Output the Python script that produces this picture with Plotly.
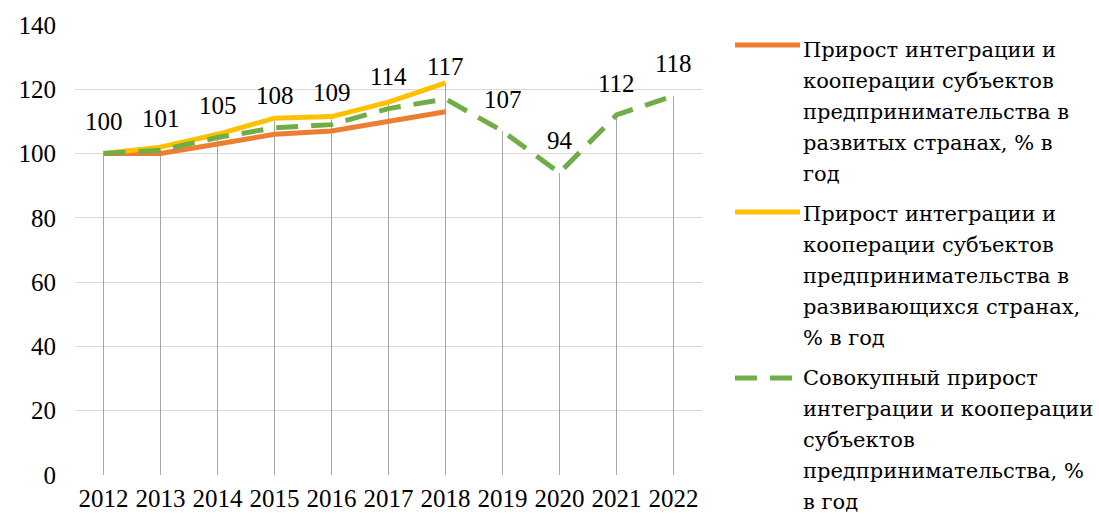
import plotly.graph_objects as go

years = ["2012", "2013", "2014", "2015", "2016", "2017", "2018", "2019", "2020", "2021", "2022"]
developed = [100, 100, 103, 106, 107, 110, 113, None, None, None, None]
developing = [100, 102, 106, 111, 111.5, 116, 122, None, None, None, None]
total = [100, 101, 105, 108, 109, 114, 117, 107, 94, 112, 118]

names = [
    "Прирост интеграции и<br>кооперации субъектов<br>предпринимательства в<br>развитых странах, % в<br>год",
    "Прирост интеграции и<br>кооперации субъектов<br>предпринимательства в<br>развивающихся странах,<br>% в год",
    "Совокупный прирост<br>интеграции и кооперации<br>субъектов<br>предпринимательства, %<br>в год",
]
colors = ["#ED7D31", "#FFC000", "#70AD47"]
FONT = "serif"
LEG_FONT = "DejaVu Serif"

fig = go.Figure()

# drop lines from axis to the highest point of each category
dx, dy = [], []
for i, yr in enumerate(years):
    vals = [v for v in (developed[i], developing[i], total[i]) if v is not None]
    dx += [yr, yr, None]
    dy += [0, max(vals), None]
fig.add_trace(go.Scatter(x=dx, y=dy, mode="lines", line=dict(color="#a6a6a6", width=1),
                         hoverinfo="skip", showlegend=False))

fig.add_trace(go.Scatter(x=years, y=developed, mode="lines", name=names[0],
                         line=dict(color=colors[0], width=5), showlegend=False))
fig.add_trace(go.Scatter(x=years, y=developing, mode="lines", name=names[1],
                         line=dict(color=colors[1], width=5), showlegend=False))
fig.add_trace(go.Scatter(x=years, y=total, mode="lines", name=names[2],
                         line=dict(color=colors[2], width=5, dash="22px,13px"), showlegend=False))

# data labels for the total series (x given as category index)
for i, v in enumerate(total):
    fig.add_annotation(x=i, y=v, xref="x", yref="y", text=str(v), showarrow=False, yshift=32,
                       font=dict(family=FONT, size=25, color="black"))

# manual legend
L, T, H = 75, 25, 450
W = 627
def px(x):
    return (x - L) / W
def py(y):
    return (T + H - y) / H

legend_rows = [45, 212, 378]
text_first = [50, 214, 378]
LINE_STEP = 31
for i in range(3):
    dash = "22px,13px" if i == 2 else "solid"
    fig.add_shape(type="line", xref="paper", yref="paper",
                  x0=px(735), x1=px(800), y0=py(legend_rows[i]), y1=py(legend_rows[i]),
                  line=dict(color=colors[i], width=5, dash=dash))
    for j, line in enumerate(names[i].split("<br>")):
        fig.add_annotation(xref="paper", yref="paper", x=px(801),
                           y=py(text_first[i] + j * LINE_STEP),
                           xanchor="left", yanchor="middle", align="left", showarrow=False,
                           text=line, font=dict(family=LEG_FONT, size=21, color="black"))

fig.update_layout(
    width=1099, height=516,
    margin=dict(l=L, r=1099 - L - W, t=T, b=516 - T - H),
    plot_bgcolor="white", paper_bgcolor="white",
    font=dict(family=FONT, size=25, color="black"),
    showlegend=False,
)
fig.update_xaxes(type="category", range=[-0.5, 10.5], showgrid=False, showline=False,
                 zeroline=False, tickfont=dict(family=FONT, size=25, color="black"),
                 tickangle=0, ticklabelstandoff=6, automargin=False)
fig.update_yaxes(range=[0, 140], dtick=20, showgrid=True, gridcolor="#d9d9d9", gridwidth=1,
                 zeroline=False, showline=False, tickfont=dict(family=FONT, size=25, color="black"),
                 ticklabelstandoff=18, automargin=False)

fig.write_html("out.html", config={"displayModeBar": False},
               post_script="document.body.style.margin='0';document.body.style.padding='0';")
